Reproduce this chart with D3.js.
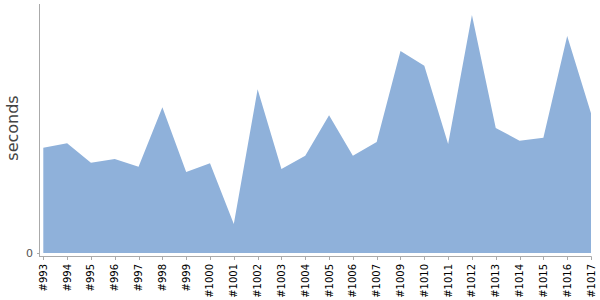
<!DOCTYPE html>
<html>
<head>
<meta charset="utf-8">
<script src="https://cdn.jsdelivr.net/npm/d3@7"></script>
<style>
  body { margin: 0; background: #fff; }
  svg { font-family: "DejaVu Sans", sans-serif; }
</style>
</head>
<body>
<svg width="600" height="300"></svg>
<script>
var builds = ["#993","#994","#995","#996","#997","#998","#999","#1000","#1001","#1002",
  "#1003","#1004","#1005","#1006","#1007","#1009","#1010","#1011","#1012","#1013",
  "#1014","#1015","#1016","#1017"];
var seconds = [105.3,109.7,90.3,94,86.3,145.7,81,89.7,29,163.7,
  84,97.3,137.7,97.3,111,202,187.3,109,238,125,
  112.3,115.3,217,139.7];
var yTicks = [0];

var svg = d3.select("svg");

var x = d3.scalePoint().domain(builds).range([43.3, 591]);
var y = d3.scaleLinear().domain([0, 249]).range([253, 4]);

// area
var area = d3.area()
    .x(function(d, i) { return x(builds[i]); })
    .y0(y(0))
    .y1(function(d) { return y(d); });

svg.append("path")
    .datum(seconds)
    .attr("d", area)
    .attr("fill", "#8fb1da");

// y axis
svg.append("line")
    .attr("x1", 39.5).attr("x2", 39.5)
    .attr("y1", 4).attr("y2", 257)
    .attr("stroke", "#aaa");

svg.selectAll(".ytick")
    .data(yTicks)
    .enter().append("line")
    .attr("x1", 37).attr("x2", 39.5)
    .attr("y1", function(d) { return y(d) + 0.5; })
    .attr("y2", function(d) { return y(d) + 0.5; })
    .attr("stroke", "#aaa");

svg.selectAll(".ylabel")
    .data(yTicks)
    .enter().append("text")
    .attr("x", 33)
    .attr("y", function(d) { return y(d); })
    .attr("dy", "0.35em")
    .attr("text-anchor", "end")
    .attr("font-size", 11)
    .attr("fill", "#555")
    .text(function(d) { return d; });

svg.append("text")
    .attr("transform", "translate(18,128) rotate(-90)")
    .attr("text-anchor", "middle")
    .attr("font-size", 16)
    .attr("fill", "#444")
    .text("seconds");

// x axis
svg.append("line")
    .attr("x1", 39.5).attr("x2", 591.5)
    .attr("y1", 256.5).attr("y2", 256.5)
    .attr("stroke", "#aaa");

svg.selectAll(".xtick")
    .data(builds)
    .enter().append("line")
    .attr("x1", function(d) { return Math.round(x(d)) + 0.5; })
    .attr("x2", function(d) { return Math.round(x(d)) + 0.5; })
    .attr("y1", 256.5).attr("y2", 260)
    .attr("stroke", "#aaa");

svg.selectAll(".xlabel")
    .data(builds)
    .enter().append("text")
    .attr("transform", function(d) { return "translate(" + (x(d) + 3.5) + ",264) rotate(-90)"; })
    .attr("text-anchor", "end")
    .attr("font-size", 10)
    .attr("fill", "#000")
    .text(function(d) { return d; });
</script>
</body>
</html>
